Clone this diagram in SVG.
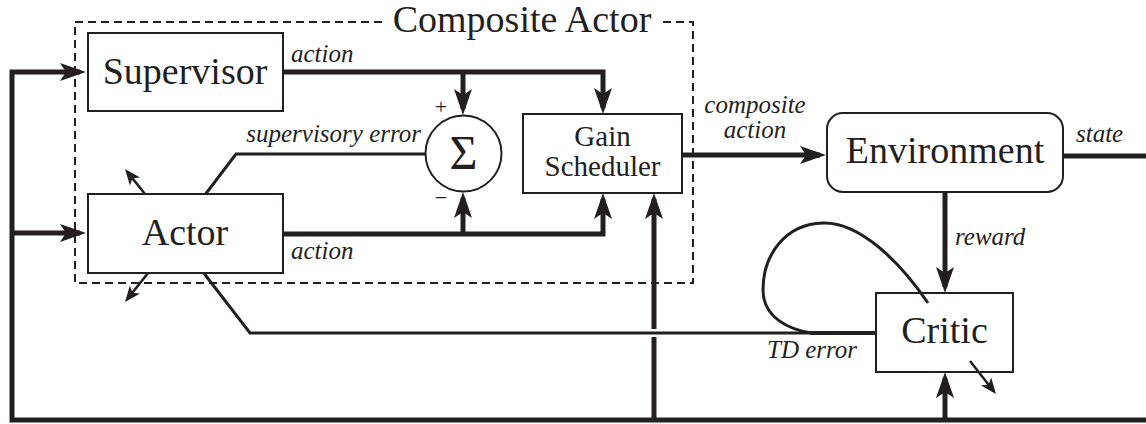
<svg xmlns="http://www.w3.org/2000/svg" width="1146" height="424" viewBox="0 0 1146 424">
<style>
text{font-family:'Liberation Serif','Times New Roman',Times,'DejaVu Serif',serif;fill:#231f20}
.box{fill:#fff;stroke:#231f20;stroke-width:2}
.big{font-size:38px;text-anchor:middle}
.mid{font-size:29px;text-anchor:middle}
.lbl{font-style:italic;font-size:25px}
.thick{fill:none;stroke:#231f20;stroke-width:5}
.thin{fill:none;stroke:#231f20;stroke-width:3}
.dash{fill:none;stroke:#231f20;stroke-width:2;stroke-dasharray:8 5}
</style>
<defs>
<marker id="ah" markerUnits="userSpaceOnUse" viewBox="-22 -10 30 20" refX="0" refY="0" markerWidth="30" markerHeight="20" orient="auto">
<path d="M6,0 L-20,-9 L-14,0 L-20,9 Z" fill="#231f20"/>
</marker>
<marker id="as" markerUnits="userSpaceOnUse" viewBox="-14 -8 20 16" refX="0" refY="0" markerWidth="20" markerHeight="16" orient="auto">
<path d="M4,0 L-12,-6.5 L-8,0 L-12,6.5 Z" fill="#231f20"/>
</marker>
</defs>
<rect width="1146" height="424" fill="#fff"/>

<g id="composite-actor">
<path class="dash" d="M382,22 H75 V283 H693 V22 H662"/>
<text class="big" x="522" y="32">Composite Actor</text>
</g>

<g id="connectors">
<path class="thick" d="M1146,420 H12 V72 H80" marker-end="url(#ah)"/>
<path class="thick" d="M12,233 H80" marker-end="url(#ah)"/>
<path class="thick" d="M283,72 H603 V108" marker-end="url(#ah)"/>
<path class="thick" d="M463,72 V109" marker-end="url(#ah)"/>
<path class="thick" d="M283,234 H603 V199" marker-end="url(#ah)"/>
<path class="thick" d="M463,234 V198" marker-end="url(#ah)"/>
<path class="thin" d="M198,204 L236,154 H425"/>
<path class="thin" d="M196,263 L250,333 H876"/>
<path class="thick" d="M810,333 H876" style="stroke-width:4"/>
<path class="thin" d="M928,303 C900,262 860,222 823,223 C785,224 763,255 763,290 C763,318 790,330 812,333"/>
<path class="thick" d="M682,155 H820" marker-end="url(#ah)"/>
<path class="thick" d="M1063,156 H1146"/>
<path class="thick" d="M945,192 V287" marker-end="url(#ah)"/>
<path class="thick" d="M945,420 V378" marker-end="url(#ah)"/>
<path class="thick" d="M654,420 V337"/>
<path class="thick" d="M654,329 V199" marker-end="url(#ah)"/>
<path class="thin" style="stroke-width:2.5" d="M153,204 L127.5,172.1" marker-end="url(#as)"/>
<path class="thin" style="stroke-width:2.5" d="M156,263 L127.5,298.9" marker-end="url(#as)"/>
<path class="thin" style="stroke-width:2.5" d="M970,361 L993.5,390.9" marker-end="url(#as)"/>
</g>

<g id="labels">
<text class="lbl" x="291" y="62">action</text>
<text class="lbl" x="291" y="259">action</text>
<text class="lbl" x="421" y="142" text-anchor="end">supervisory error</text>
<text class="lbl" x="755" y="113" text-anchor="middle">composite</text>
<text class="lbl" x="755" y="138" text-anchor="middle">action</text>
<text class="lbl" x="1076" y="142">state</text>
<text class="lbl" x="955" y="245">reward</text>
<text class="lbl" x="767" y="358">TD error</text>
<text x="441" y="114" font-size="22" text-anchor="middle">+</text>
<text x="441" y="205" font-size="22" text-anchor="middle">−</text>
</g>

<g id="supervisor">
<rect class="box" x="88" y="33" width="195" height="78"/>
<text class="big" x="185" y="84">Supervisor</text>
</g>

<g id="actor">
<rect class="box" x="88" y="194" width="195" height="79"/>
<text class="big" x="185" y="245">Actor</text>
</g>

<g id="sum">
<circle cx="463.5" cy="153.5" r="38" fill="#fff" stroke="#231f20" stroke-width="2"/>
<text x="463.5" y="169" font-size="48" text-anchor="middle">Σ</text>
</g>

<g id="gain-scheduler">
<rect class="box" x="523" y="114" width="159" height="79"/>
<text class="mid" x="602.5" y="146">Gain</text>
<text class="mid" x="602.5" y="176">Scheduler</text>
</g>

<g id="environment">
<rect class="box" x="827" y="113" width="236" height="79" rx="16"/>
<text class="big" x="945" y="163">Environment</text>
</g>

<g id="critic">
<rect class="box" x="876" y="293" width="137" height="79" style="fill:none"/>
<text class="big" x="944.5" y="343">Critic</text>
</g>
</svg>
